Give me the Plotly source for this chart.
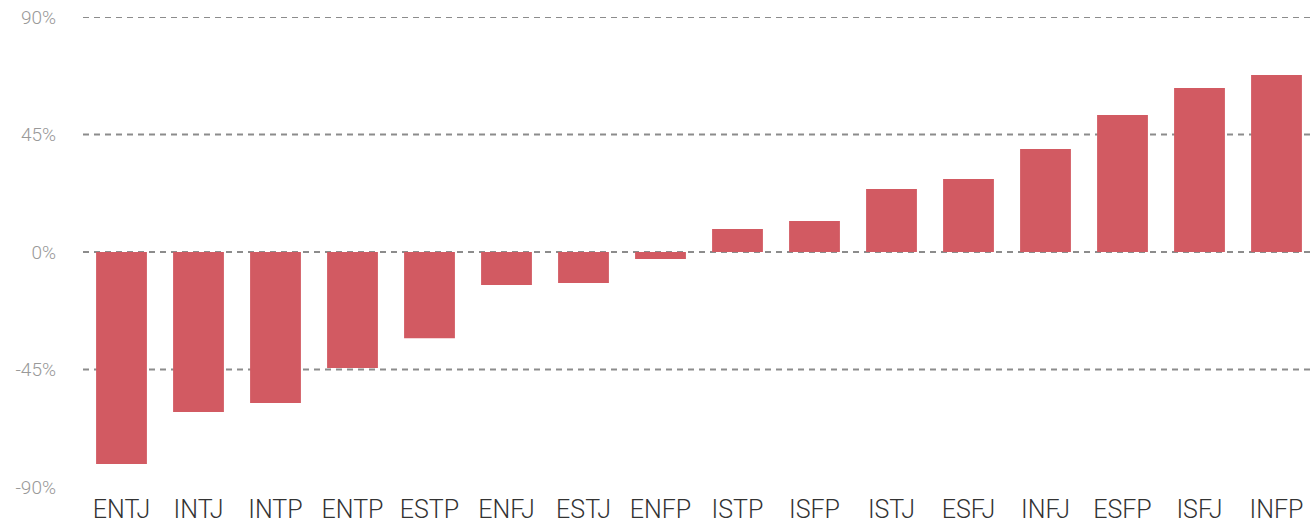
import plotly.graph_objects as go

types = ["ENTJ", "INTJ", "INTP", "ENTP", "ESTP", "ENFJ", "ESTJ", "ENFP",
         "ISTP", "ISFP", "ISTJ", "ESFJ", "INFJ", "ESFP", "ISFJ", "INFP"]
values = [-81.2, -61.3, -57.8, -44.4, -33.0, -12.6, -11.9, -2.7,
          8.8, 11.9, 24.1, 28.0, 39.4, 52.5, 62.8, 67.8]
tick_vals = [-90, -45, 0, 45, 90]
tick_text = ["-90%", "-45%", "0%", "45%", "90%"]
grid_vals = [-45, 0, 45, 90]

fig = go.Figure(go.Bar(x=types, y=values, marker=dict(color="#d25a62", line=dict(width=0)),
                       hoverinfo="x+y"))

shapes = [dict(type="line", xref="paper", yref="y", x0=0, x1=1, y0=g, y1=g,
               layer="below", line=dict(color="#8c8c8c", width=2, dash="6px,5px"))
          for g in grid_vals]

fig.update_layout(
    width=1315, height=527,
    margin=dict(l=83, r=0, t=17, b=40),
    paper_bgcolor="white", plot_bgcolor="white",
    bargap=0.34,
    showlegend=False,
    shapes=shapes,
    font=dict(family="Roboto", weight=300),
    xaxis=dict(showgrid=False, zeroline=False, showline=False, ticks="",
               automargin=False, ticklabelstandoff=5,
               tickfont=dict(family="Roboto", size=25, color="#333333", weight=300)),
    yaxis=dict(range=[-90, 90], tickvals=tick_vals, ticktext=tick_text,
               showgrid=False, zeroline=False, showline=False, ticks="",
               automargin=False, ticklabelstandoff=26,
               tickfont=dict(family="Roboto", size=19, color="#999999", weight=300)),
)

fig.write_html("out.html", config={"displayModeBar": False},
               post_script="document.body.style.margin='0';document.body.style.overflow='hidden';")
